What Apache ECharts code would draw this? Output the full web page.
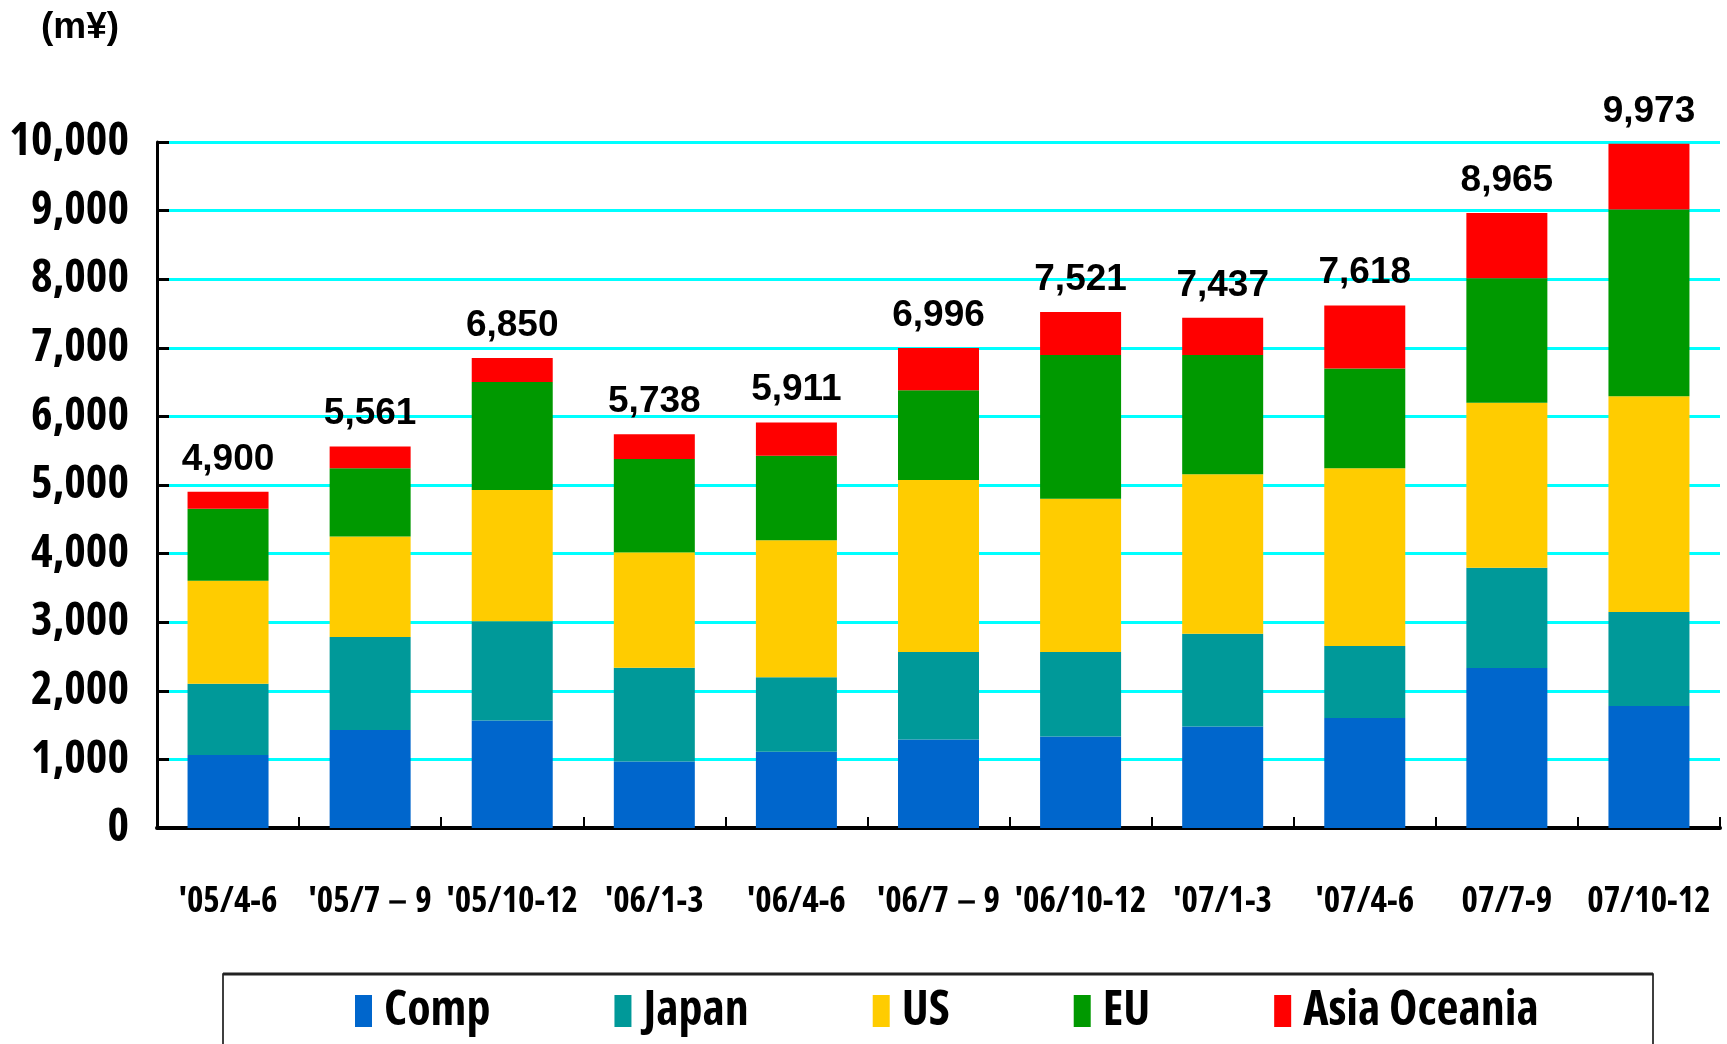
<!DOCTYPE html>
<html>
<head>
<meta charset="utf-8">
<script src="https://cdn.jsdelivr.net/npm/echarts@6/dist/echarts.min.js"></script>
<style>
  html, body { margin: 0; padding: 0; background: #fff; }
  #chart { width: 1727px; height: 1044px; }
</style>
</head>
<body>
<div id="chart"></div>
<script>
// quarters on the x axis
const quarters = ["'05/4-6", "'05/7－9", "'05/10-12", "'06/1-3", "'06/4-6", "'06/7－9", "'06/10-12", "'07/1-3", "'07/4-6", "07/7-9", "07/10-12"]

// sales by region (m¥)
const comp  = [1063, 1429, 1566,  971, 1112, 1291, 1335, 1480, 1603, 2333, 1779]
const japan = [1039, 1356, 1449, 1366, 1084, 1273, 1229, 1352, 1049, 1460, 1369]
const us    = [1503, 1464, 1912, 1683, 1998, 2509, 2237, 2324, 2591, 2406, 3146]
const eu    = [1049,  995, 1574, 1360, 1231, 1307, 2093, 1738, 1456, 1816, 2721]
const asia  = [ 246,  317,  349,  358,  486,  616,  627,  543,  919,  950,  958]

// totals printed above each bar
const totals = [4900, 5561, 6850, 5738, 5911, 6996, 7521, 7437, 7618, 8965, 9973]

const yTicks = { min: 0, max: 10000, interval: 1000 }

// Open Sans is variable in width, so 'condensed' gives a narrow face
const narrow = "'Open Sans', sans-serif"
const narrowWeight = 'bold condensed'
const wide = "'Liberation Sans', Arial, sans-serif"

function fmt(n) {
  return n.toLocaleString('en-US')
}

const regions = [
  { name: 'Comp', data: comp, color: '#0066cc' },
  { name: 'Japan', data: japan, color: '#009999' },
  { name: 'US', data: us, color: '#ffcc00' },
  { name: 'EU', data: eu, color: '#009900' },
  { name: 'Asia Oceania', data: asia, color: '#ff0000' },
]

const series = regions.map((r, i) => {
  const s = {
    name: r.name,
    type: 'bar',
    stack: 'total',
    barWidth: 81,
    data: r.data,
    itemStyle: { color: r.color },
    emphasis: { disabled: true },
  }
  // total label sits on the top segment
  if (i === regions.length - 1) {
    s.label = {
      show: true,
      position: 'top',
      distance: 14,
      formatter: p => fmt(totals[p.dataIndex]),
      fontFamily: wide,
      fontWeight: 'bold',
      fontSize: 37,
      color: '#000',
    }
  }
  return s
})

const chart = echarts.init(document.getElementById('chart'))
chart.setOption({
  animation: false,
  title: {
    text: '(m¥)',
    left: 36,
    top: 4,
    textStyle: { fontFamily: wide, fontWeight: 'bold', fontSize: 37, color: '#000' },
  },
  grid: { left: 157, right: 7, top: 142, bottom: 216, outerBoundsMode: 'none' },
  legend: {
    left: 350,
    top: 982,
    itemWidth: 17,
    itemHeight: 32,
    itemGap: 124,
    icon: 'rect',
    selectedMode: false,
    textStyle: { fontFamily: narrow, fontWeight: narrowWeight, fontSize: 48, color: '#000', padding: [14, 0, 0, 7] },
  },
  xAxis: {
    type: 'category',
    data: quarters,
    axisLine: { lineStyle: { color: '#000', width: 4 } },
    axisTick: { show: true, inside: true, length: 11, lineStyle: { color: '#000', width: 2 } },
    axisLabel: {
      margin: 57,
      fontFamily: narrow,
      fontWeight: narrowWeight,
      fontSize: 35,
      color: '#000',
      interval: 0,
    },
  },
  yAxis: {
    type: 'value',
    min: yTicks.min,
    max: yTicks.max,
    interval: yTicks.interval,
    axisLine: { show: true, lineStyle: { color: '#000', width: 3 } },
    axisTick: { show: true, inside: true, length: 12, lineStyle: { color: '#000', width: 3 } },
    splitLine: { lineStyle: { color: '#00ffff', width: 3 } },
    axisLabel: {
      margin: 28,
      formatter: v => fmt(v),
      fontFamily: narrow,
      fontWeight: narrowWeight,
      fontSize: 46,
      color: '#000',
    },
  },
  graphic: [
    {
      type: 'rect',
      shape: { x: 223, y: 974, width: 1430, height: 120 },
      style: { fill: 'none', stroke: '#000', lineWidth: 1.5 },
      silent: true,
    },
    {
      type: 'line',
      shape: { x1: 223, y1: 974, x2: 1653, y2: 974 },
      style: { stroke: '#222', lineWidth: 3 },
      silent: true,
    },
  ],
  series,
})
</script>
</body>
</html>
